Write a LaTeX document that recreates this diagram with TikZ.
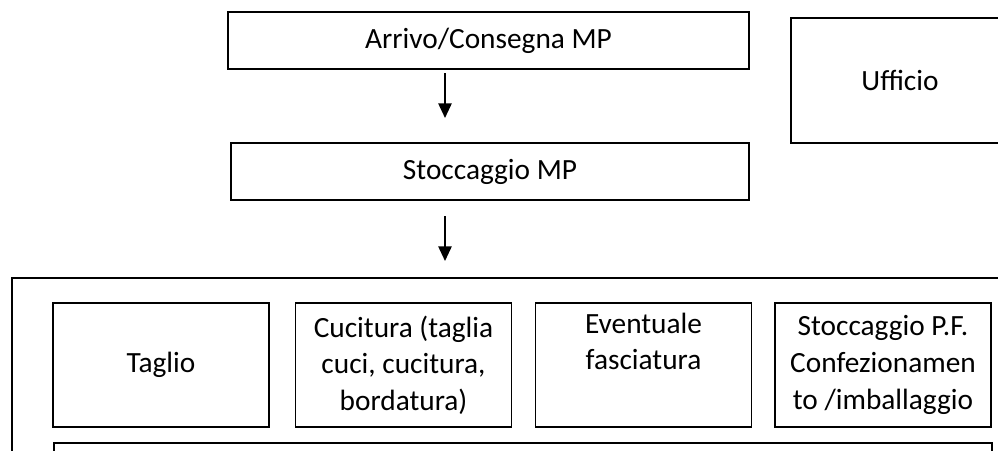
\documentclass[tikz,border=0pt]{standalone}
\usepackage{fontspec}
\setmainfont{Carlito}
\usetikzlibrary{arrows.meta}

\begin{document}
\begin{tikzpicture}[x=0.75pt,y=-0.75pt,
    box/.style={draw,line width=1.3pt,rectangle,align=center,inner sep=0pt,
      font=\fontsize{22}{27.5}\selectfont},
    fase/.style={box,minimum width=162pt,minimum height=93pt},
    freccia/.style={-{Triangle[width=10pt,length=11pt]},line width=1.2pt}]
  \useasboundingbox (0,0) rectangle (998,450);
  \clip (0,0) rectangle (998,450);
  \node[box,minimum width=390.75pt,minimum height=42.75pt] (arrivo) at (488.5,40.5) {Arrivo/Consegna MP};
  \node[box,minimum width=388.5pt,minimum height=42.75pt] (stoccMP) at (490,171.5) {Stoccaggio MP};
  \node[box,minimum width=163.5pt,minimum height=93.75pt] (ufficio) at (900,80.5) {Ufficio};
  \node[box,anchor=north west,minimum width=760pt,minimum height=200pt] (reparto) at (11,277) {};
  \node[fase] (taglio) at (161,365) {Taglio};
  \node[fase] (cucitura) at (403.5,365) {Cucitura (taglia\\cuci, cucitura,\\bordatura)};
  \node[fase] (fasciat) at (643.5,365) {Eventuale\\fasciatura\\\strut};
  \node[fase] (stoccPF) at (883,365) {Stoccaggio P.F.\\Confezionamen\\to /imballaggio};
  \node[box,anchor=north west,minimum width=703.5pt,minimum height=100pt] (sotto) at (53,442) {};
  \coordinate (f1a) at (445,73);
  \coordinate (f1b) at (445,118);
  \coordinate (f2a) at (445,216);
  \coordinate (f2b) at (445,261);
  \draw[freccia] (f1a) -- (f1b);
  \draw[freccia] (f2a) -- (f2b);
\end{tikzpicture}
\end{document}
